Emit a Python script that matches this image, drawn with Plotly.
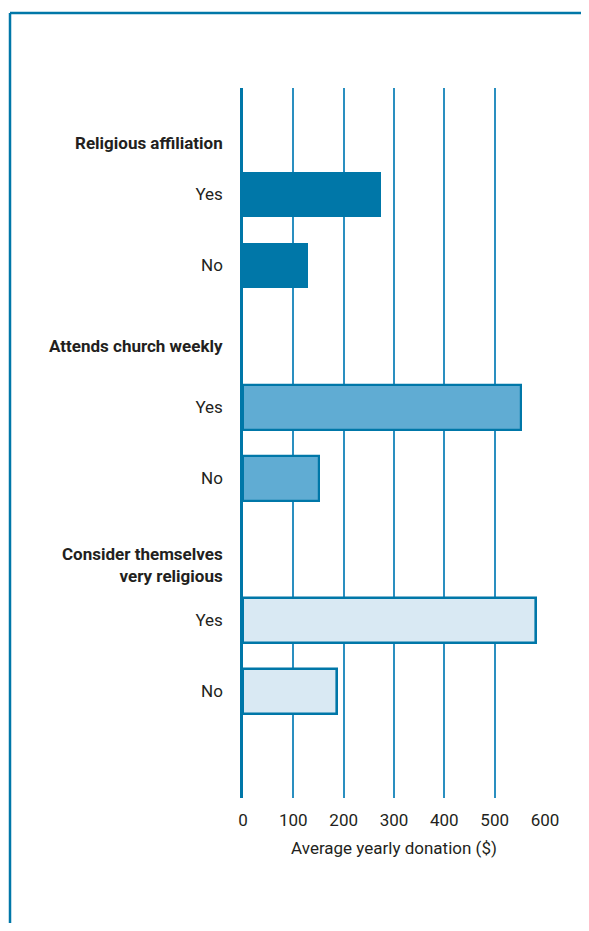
import plotly.graph_objects as go

# data
groups = ["Religious affiliation", "Attends church weekly", "Consider themselves<br>very religious"]
answers = ["Yes", "No"]
donations = {
    "Religious affiliation": [274, 129],
    "Attends church weekly": [552, 150],
    "Consider themselves<br>very religious": [583, 187],
}
x_ticks = [0, 100, 200, 300, 400, 500, 600]

# styling per group
fills = ["#0077a8", "#60acd3", "#d9e9f3"]
borders = ["#0077a8", "#0077a8", "#0077a8"]
border_w = [0, 2.2, 2.6]
header_offset = [-0.73, -0.87, -0.78]  # header label sits above each group's bars

FONT = "Roboto, Liberation Sans, sans-serif"
TXT = "#231f20"
BLUE = "#0077a8"

fig = go.Figure()

tickvals, ticktext = [], []
for i, g in enumerate(groups):
    base = i * 3  # each group takes three rows: header gap, Yes, No
    ys = [base, base + 1]
    tickvals += ys
    ticktext += answers
    fig.add_trace(go.Bar(
        x=donations[g],
        y=ys,
        orientation="h",
        width=0.62,
        marker=dict(color=fills[i], line=dict(color=borders[i], width=border_w[i])),
        showlegend=False,
        hovertemplate="%{x}<extra></extra>",
    ))
    fig.add_annotation(
        text="<b>" + g + "</b>", x=0, y=base + header_offset[i], xref="paper", yref="y",
        xanchor="right", yanchor="middle", xshift=-18, align="right",
        showarrow=False, font=dict(size=17, color=TXT, family=FONT),
    )

# outer frame (blue rule along top and left)
fig.add_shape(type="line", xref="paper", yref="paper",
              x0=-0.7715, x1=1.2, y0=1.1056, y1=1.1056,
              line=dict(color=BLUE, width=2.5))
fig.add_shape(type="line", xref="paper", yref="paper",
              x0=-0.7715, x1=-0.7715, y0=-0.3, y1=1.1056,
              line=dict(color=BLUE, width=2.5))

# page body has an 8px margin, so the figure is sized and offset to fit
fig.update_layout(
    width=581, height=915,
    margin=dict(l=235, r=44, t=80, b=125),
    paper_bgcolor="white", plot_bgcolor="white",
    font=dict(family=FONT, color=TXT, size=17),
    bargap=0,
    xaxis=dict(
        range=[0, 600], tickvals=x_ticks, ticks="",
        showgrid=True, gridcolor="#2a8fc0", gridwidth=1.5,
        zeroline=False, showline=False,
        tickfont=dict(size=17, color=TXT),
        ticklabelstandoff=10,
        title=dict(text="Average yearly donation ($)", font=dict(size=17, color=TXT), standoff=13),
    ),
    yaxis=dict(
        range=[8.5, -1.5], tickvals=tickvals, ticktext=ticktext,
        ticks="", showgrid=False, zeroline=False,
        showline=True, linecolor=BLUE, linewidth=2.5,
        tickfont=dict(size=17, color=TXT),
        ticklabelstandoff=14,
    ),
)

fig.write_html("out.html")
